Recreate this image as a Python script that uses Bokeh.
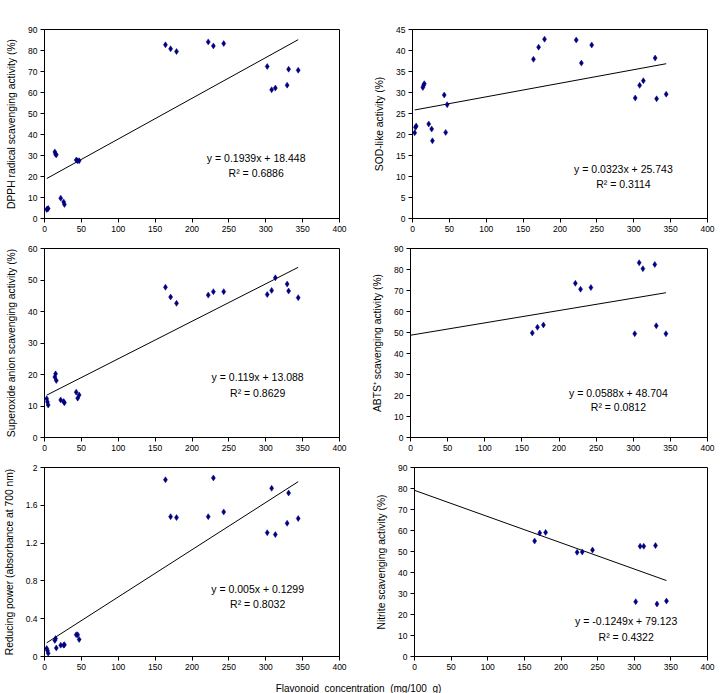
from bokeh.plotting import figure
from bokeh.layouts import column, row
from bokeh.models import Range1d, FixedTicker, Label
from bokeh.embed import file_html
from bokeh.resources import INLINE

# ---------------- data ----------------
concentration = [3, 4, 5, 14, 15, 16, 22, 26, 27, 43, 45, 47,
                 164, 171, 179, 222, 229, 243, 302, 308, 313, 329, 331, 344]
concentration_high = concentration[12:]

dpph = [4.3, 4.5, 4.8, 31.7, 30.6, 30.3, 9.7, 7.9, 6.7, 27.8, 27.5, 27.5,
        82.7, 80.8, 79.5, 84.1, 82.2, 83.3, 72.4, 61.3, 62.1, 63.5, 71.1, 70.6]
sod = [20.4, 21.7, 22.0, 31.2, 31.7, 32.1, 22.5, 21.3, 18.5, 29.4, 20.5, 27.1,
       37.9, 40.8, 42.7, 42.5, 37.0, 41.3, 28.7, 31.7, 32.8, 38.2, 28.5, 29.6]
superoxide = [12.3, 11.3, 10.3, 19.2, 20.2, 18.1, 11.9, 11.4, 11.0, 14.4, 12.5, 13.5,
              47.7, 44.6, 42.6, 45.2, 46.3, 46.3, 45.4, 46.7, 50.7, 48.7, 46.5, 44.4]
abts = [49.8, 52.5, 53.6, 73.4, 70.6, 71.4, 49.4, 83.2, 80.4, 82.4, 53.2, 49.4]
reducing = [0.085, 0.064, 0.035, 0.17, 0.19, 0.09, 0.12, 0.12, 0.125, 0.23, 0.23, 0.18,
            1.87, 1.48, 1.47, 1.48, 1.89, 1.53, 1.31, 1.78, 1.29, 1.41, 1.73, 1.46]
nitrite = [55.0, 58.8, 59.1, 49.6, 49.8, 50.7, 26.1, 52.5, 52.5, 52.8, 25.0, 26.4]

slopes = [0.1939, 0.0323, 0.119, 0.0588, 0.005, -0.1249]
intercepts = [18.448, 25.743, 13.088, 48.704, 0.1299, 79.123]
r_squared = [0.6886, 0.3114, 0.8629, 0.0812, 0.8032, 0.4322]
trend_start = [3, 3, 3, 0, 3, 0]
trend_end = [344, 344, 344, 344, 344, 344]

y_labels = ["DPPH radical scavenging activity (%)",
            "SOD-like activity (%)",
            "Superoxide anion scavenging activity (%)",
            "ABTS\u207a scavenging activity (%)",
            "Reducing power (absorbance at 700 nm)",
            "Nitrite scavenging activity (%)"]
y_max = [90, 45, 60, 90, 2, 90]
y_step = [10, 5, 10, 10, 0.4, 10]
x_ticks = [0, 50, 100, 150, 200, 250, 300, 350, 400]
x_label = "Flavonoid \u00a0concentration \u00a0(mg/100 \u00a0g)"

FONT = "Liberation Sans"
NAVY = "#000080"


def fmt(v):
    s = ("%.4f" % v).rstrip("0").rstrip(".")
    return s


def panel(idx, xs, ys, width, height, border_l, border_r, border_t, border_b, eq_x, eq_y, r2_y):
    p = figure(width=width, height=height, output_backend="svg", toolbar_location=None,
               x_range=Range1d(0, 400), y_range=Range1d(0, y_max[idx]))
    p.min_border_left = border_l
    p.min_border_right = border_r
    p.min_border_top = border_t
    p.min_border_bottom = border_b
    p.xgrid.visible = False
    p.ygrid.visible = False
    p.outline_line_color = "black"
    p.outline_line_width = 1
    p.background_fill_color = "white"
    p.border_fill_color = "white"

    n = int(round(y_max[idx] / y_step[idx]))
    yt = [round(i * y_step[idx], 4) for i in range(n + 1)]
    p.yaxis.ticker = FixedTicker(ticks=yt)
    p.yaxis.major_label_overrides = {t: fmt(t) for t in yt}
    p.xaxis.ticker = FixedTicker(ticks=x_ticks)

    for ax in (p.xaxis[0], p.yaxis[0]):
        ax.axis_line_color = "black"
        ax.major_tick_line_color = "black"
        ax.minor_tick_line_color = None
        ax.major_tick_out = 4
        ax.major_tick_in = 0
        ax.major_label_text_font = FONT
        ax.major_label_text_font_size = "8.5px"
        ax.major_label_text_color = "black"
        ax.major_label_standoff = 3
    p.yaxis.axis_label = y_labels[idx]
    p.yaxis.axis_label_text_font = FONT
    p.yaxis.axis_label_text_font_size = "10.3px"
    p.yaxis.axis_label_text_font_style = "normal"
    p.yaxis.axis_label_text_color = "black"
    p.yaxis.axis_label_standoff = 8

    x0, x1 = trend_start[idx], trend_end[idx]
    m, b = slopes[idx], intercepts[idx]
    p.line([x0, x1], [m * x0 + b, m * x1 + b], line_color="black", line_width=1)
    p.scatter(xs, ys, marker="diamond", size=6, fill_color=NAVY, line_color=NAVY, line_width=0.5)

    eq = "y = %sx + %s" % (fmt(m), fmt(b))
    for txt, yy in ((eq, eq_y), ("R\u00b2 = %s" % fmt(r_squared[idx]), r2_y)):
        p.add_layout(Label(x=eq_x, y=yy, text=txt, text_font=FONT, text_font_size="10.5px",
                           text_align="center", text_baseline="middle", text_color="black"))
    return p


p1 = panel(0, concentration, dpph, 364, 238, 44, 25, 29, 20, 287, 29.0, 21.9)
p2 = panel(1, concentration, sod, 364, 238, 48, 21, 29, 20, 286, 11.9, 8.3)
p3 = panel(2, concentration, superoxide, 364, 219, 44, 25, 10, 20, 289, 19.1, 14.2)
p4 = panel(3, concentration_high, abts, 364, 219, 46, 21, 10, 20, 280, 21.4, 14.4)
p5 = panel(4, concentration, reducing, 364, 219, 44, 25, 10, 20, 289, 0.71, 0.557)
p6 = panel(5, concentration_high, nitrite, 364, 219, 50, 21, 10, 20, 289, 16.7, 9.2)

pl = figure(width=728, height=17, output_backend="svg", toolbar_location=None,
            x_range=Range1d(0, 728), y_range=Range1d(0, 17),
            x_axis_type=None, y_axis_type=None)
pl.min_border_left = pl.min_border_right = pl.min_border_top = pl.min_border_bottom = 0
pl.outline_line_color = None
pl.xgrid.visible = False
pl.ygrid.visible = False
pl.add_layout(Label(x=358, y=5.5, text=x_label, text_font=FONT, text_font_size="10px",
                    text_align="center", text_baseline="middle", text_color="black"))

layout = column(row(p1, p2), row(p3, p4), row(p5, p6), pl)

open("out.html", "w").write(file_html(layout, INLINE))
